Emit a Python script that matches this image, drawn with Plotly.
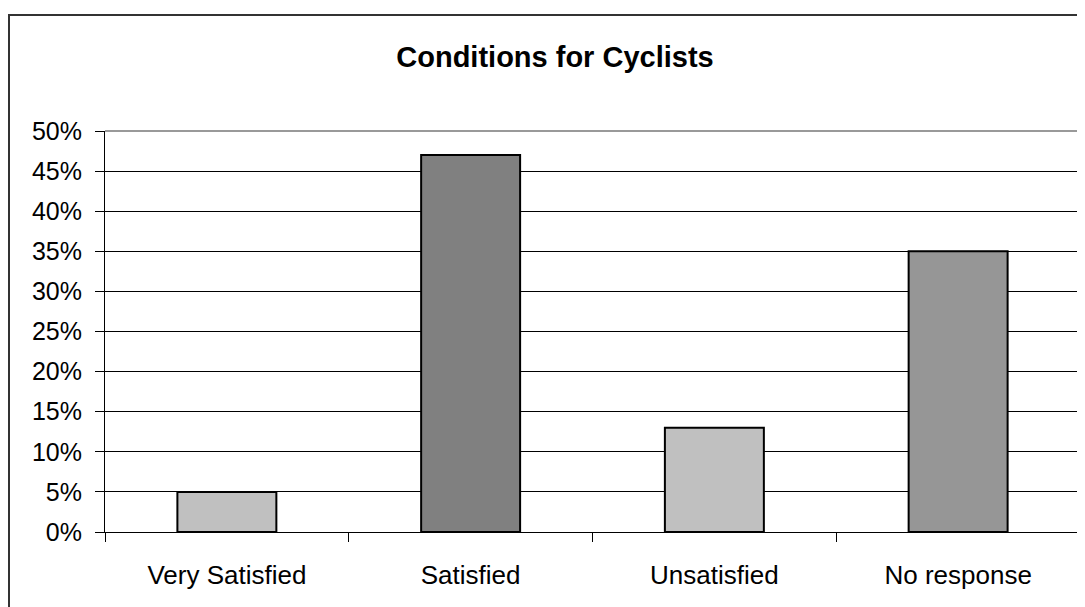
import plotly.graph_objects as go

categories = ["Very Satisfied", "Satisfied", "Unsatisfied", "No response"]
values = [0.05, 0.47, 0.13, 0.35]
bar_colors = ["#C0C0C0", "#808080", "#C0C0C0", "#969696"]
y_ticks = [i * 0.05 for i in range(11)]
y_labels = [f"{i*5}%" for i in range(11)]

OFF = 8  # browser body margin
W, H = 1085 - OFF, 607 - OFF
L, R, T, B = 105 - OFF, 5, 131 - OFF, 75
pw, ph = W - L - R, H - T - B

fig = go.Figure()
fig.add_trace(go.Bar(
    x=categories, y=values,
    marker=dict(color=bar_colors, line=dict(color="black", width=2)),
    showlegend=False, hoverinfo="x+y",
))

FONT = "Liberation Sans, Arial, sans-serif"
fig.update_layout(
    width=W, height=H,
    margin=dict(l=L, r=R, t=T, b=B),
    paper_bgcolor="white", plot_bgcolor="white",
    bargap=0.594,
    font=dict(family=FONT, size=26, color="black"),
    title=dict(text="<b>Conditions for Cyclists</b>", x=(555 - OFF) / W, xanchor="center",
               y=1 - (57 - OFF) / H, yanchor="middle", xref="container", yref="container",
               font=dict(family=FONT, size=29, color="black")),
    xaxis=dict(type="category", tickson="boundaries", ticks="outside", ticklen=9,
               tickcolor="black", tickwidth=1, showgrid=False, showline=True,
               linecolor="black", linewidth=1, tickfont=dict(size=26),
               ticklabelstandoff=20),
    yaxis=dict(range=[0, 0.5], tickvals=y_ticks, ticktext=y_labels, ticks="outside",
               ticklen=9, tickcolor="black", tickwidth=1, showgrid=True,
               gridcolor="black", gridwidth=1, showline=True, linecolor="black",
               linewidth=1, zeroline=False, tickfont=dict(size=25),
               ticklabelstandoff=8),
)

# plot-area border (top and right, gray)
fig.add_shape(type="line", xref="paper", yref="paper", x0=0, x1=1, y0=1, y1=1,
              line=dict(color="#999999", width=2), layer="above")
fig.add_shape(type="line", xref="paper", yref="paper", x0=1, x1=1, y0=0, y1=1,
              line=dict(color="#999999", width=2), layer="above")
# chart-area outer border
fig.add_shape(type="rect", xref="paper", yref="paper",
              x0=(9 - 105) / pw, x1=(1101 - 105) / pw,
              y0=-(620 - 532) / ph, y1=1 + (131 - 15) / ph,
              line=dict(color="#333333", width=2), layer="above")

fig.write_html("out.html")
